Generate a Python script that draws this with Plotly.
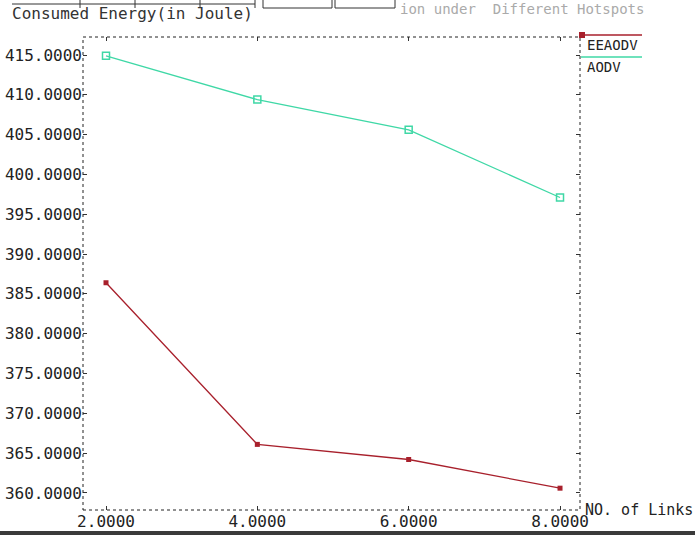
import plotly.graph_objects as go

x_links = [2, 4, 6, 8]
eeaodv = [386.4, 366.1, 364.2, 360.6]
aodv = [414.9, 409.4, 405.6, 397.1]
y_ticks = [360, 365, 370, 375, 380, 385, 390, 395, 400, 405, 410, 415]
x_ticks = [2, 4, 6, 8]

W, H = 695, 535
L, R, T, B = 83, 580, 37, 510

def fx(px):
    return (px - L) / (R - L)

def fy(py):
    return (B - py) / (B - T)

FONT = "DejaVu Sans Mono"
RED = "#a8202c"
GREEN = "#3fd8a6"

fig = go.Figure()
fig.add_trace(go.Scatter(x=x_links, y=aodv, mode="lines+markers", name="AODV",
                         line=dict(color=GREEN, width=1.3),
                         marker=dict(symbol="square-open", size=7, color=GREEN, line=dict(width=1.5))))
fig.add_trace(go.Scatter(x=x_links, y=eeaodv, mode="lines+markers", name="EEAODV",
                         line=dict(color=RED, width=1.3),
                         marker=dict(symbol="square", size=5, color=RED)))

axis_common = dict(showgrid=False, zeroline=False, showline=False, ticks="inside",
                   ticklen=4, tickcolor="#333", tickwidth=1, mirror="ticks",
                   automargin=False, tickfont=dict(family=FONT, size=16, color="#222"))

fig.update_layout(
    width=W, height=H,
    margin=dict(l=L, r=W - R, t=T, b=H - B, pad=0),
    paper_bgcolor="white", plot_bgcolor="white",
    showlegend=False,
    xaxis=dict(range=[1.696, 8.264], tickvals=x_ticks, tickformat=".4f", **axis_common),
    yaxis=dict(range=[357.86, 417.26], tickvals=y_ticks, tickformat=".4f", **axis_common),
)

shapes = []
# dotted frame
shapes.append(dict(type="rect", xref="paper", yref="paper", x0=0, x1=1, y0=0, y1=1,
                   line=dict(color="#222", width=1, dash="dot")))
# legend lines
shapes.append(dict(type="line", xref="paper", yref="paper", x0=fx(581), x1=fx(642),
                   y0=fy(35), y1=fy(35), line=dict(color=RED, width=1.3)))
shapes.append(dict(type="line", xref="paper", yref="paper", x0=fx(581), x1=fx(642),
                   y0=fy(57), y1=fy(57), line=dict(color=GREEN, width=1.3)))
shapes.append(dict(type="rect", xref="paper", yref="paper", x0=fx(579), x1=fx(585),
                   y0=fy(32), y1=fy(38), fillcolor=RED, line=dict(width=0)))
# top button boxes (cropped window header)
shapes.append(dict(type="line", xref="paper", yref="paper", x0=fx(12), x1=fx(255),
                   y0=fy(4), y1=fy(4), line=dict(color="#333", width=1)))
for bx in [80, 135, 200, 255]:
    shapes.append(dict(type="line", xref="paper", yref="paper", x0=fx(bx), x1=fx(bx),
                       y0=fy(0), y1=fy(8), line=dict(color="#333", width=1)))
for x0b, x1b in [(263, 332), (335, 395)]:
    shapes.append(dict(type="rect", xref="paper", yref="paper", x0=fx(x0b), x1=fx(x1b),
                       y0=fy(8), y1=fy(-2), line=dict(color="#333", width=1)))
# dark bottom bar
shapes.append(dict(type="rect", xref="paper", yref="paper", x0=fx(0), x1=fx(W),
                   y0=fy(535), y1=fy(531), fillcolor="#3a3a3a", line=dict(width=0)))
fig.update_layout(shapes=shapes)

ann = [
    dict(text="Consumed Energy(in Joule)", x=fx(10), y=fy(13), xanchor="left", yanchor="middle",
         font=dict(family=FONT, size=16, color="#333")),
    dict(text="ion under  Different Hotspots", x=fx(398), y=fy(9), xanchor="left", yanchor="middle",
         font=dict(family=FONT, size=14, color="#aaa")),
    dict(text="NO. of Links", x=fx(583), y=fy(510), xanchor="left", yanchor="middle",
         font=dict(family=FONT, size=15, color="#222")),
    dict(text="EEAODV", x=fx(585), y=fy(45), xanchor="left", yanchor="middle",
         font=dict(family=FONT, size=14, color="#222")),
    dict(text="AODV", x=fx(585), y=fy(67), xanchor="left", yanchor="middle",
         font=dict(family=FONT, size=14, color="#222")),
]
for a in ann:
    a.update(xref="paper", yref="paper", showarrow=False)
fig.update_layout(annotations=ann)

fig.write_html("out.html")
